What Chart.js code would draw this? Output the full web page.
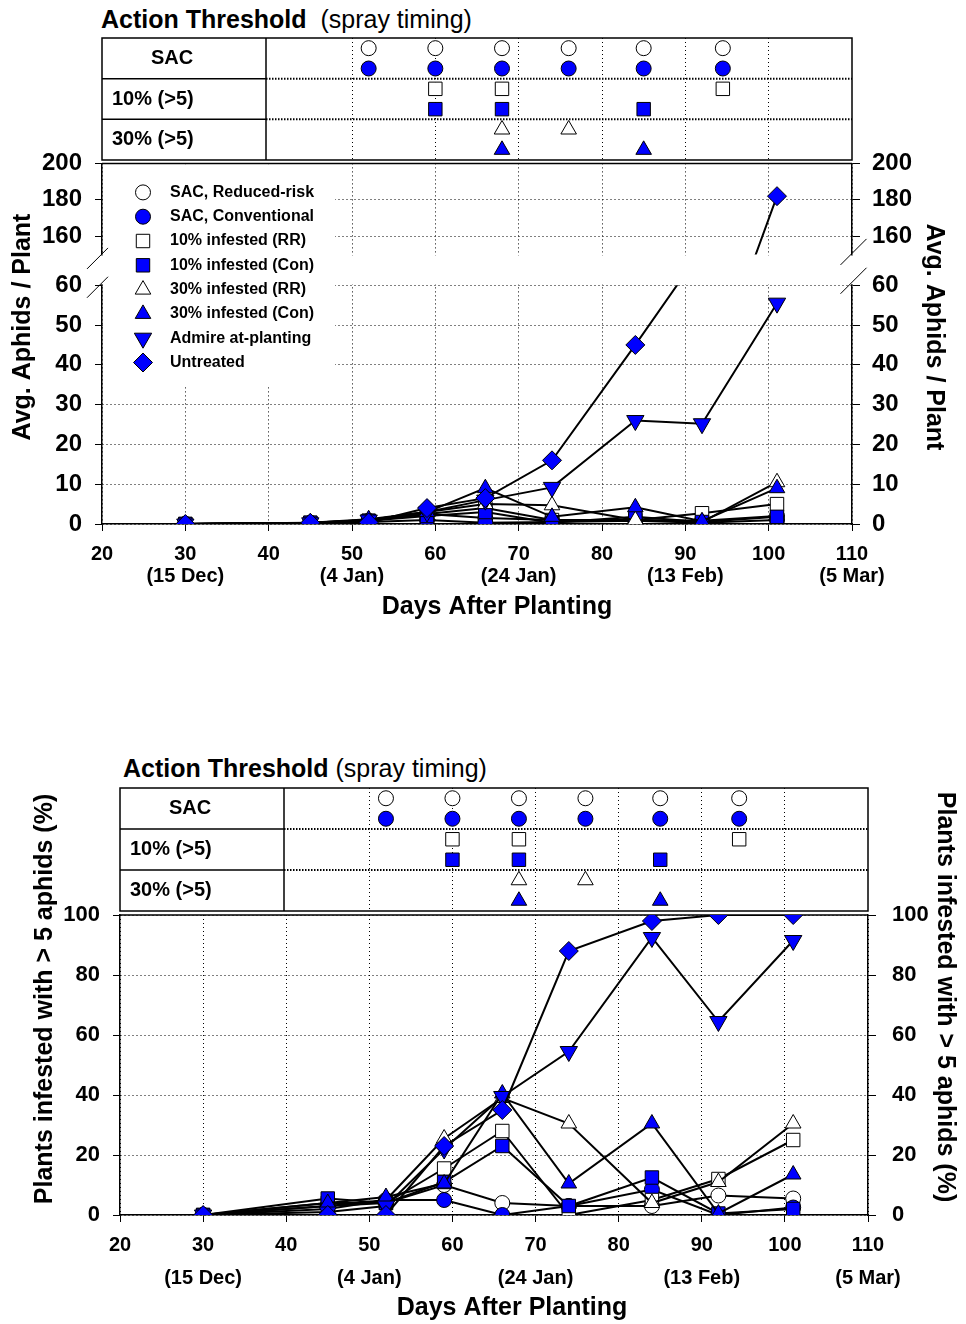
<!DOCTYPE html>
<html>
<head>
<meta charset="utf-8">
<title>Aphid action thresholds</title>
<script src="https://cdn.jsdelivr.net/npm/chart.js@4.4.1/dist/chart.umd.min.js"></script>
<style>
  html, body { margin: 0; padding: 0; background: #fff; }
  #page { position: relative; width: 966px; height: 1324px; overflow: hidden;
          font-family: "Liberation Sans", Arial, Helvetica, sans-serif; color: #000; }
  .frame { position: absolute; left: 0; width: 966px; }
  .heading { position: absolute; font-size: 25px; line-height: 28px; white-space: pre; }
</style>
</head>
<body>
<div id="page">
  <div class="heading" style="left:101px; top:5px"><b>Action Threshold</b>  (spray timing)</div>
  <div class="frame" style="top:30px; height:136px"><canvas id="sprayTop"></canvas></div>
  <div class="frame" style="top:136px; height:514px"><canvas id="aphidChart"></canvas></div>

  <div class="heading" style="left:123px; top:754px"><b>Action Threshold</b> (spray timing)</div>
  <div class="frame" style="top:780px; height:136px"><canvas id="sprayBottom"></canvas></div>
  <div class="frame" style="top:770px; height:554px"><canvas id="infestChart"></canvas></div>
</div>

<script>
const BLUE = '#0000ff';
const FONT = '"Liberation Sans", Arial, Helvetica, sans-serif';

// Sampling dates, days after planting.
const days = [30, 45, 52, 59, 66, 74, 84, 92, 101];
const treatments = ['SAC, Reduced-risk', 'SAC, Conventional', '10% infested (RR)', '10% infested (Con)',
  '30% infested (RR)', '30% infested (Con)', 'Admire at-planting', 'Untreated'];

// Avg. aphids per plant.
const aphidsSacRR = [0, 0.3, 0.8, 2.5, 1.5, 1.0, 1.0, 0.8, 2.0];
const aphidsSacCon = [0, 0.2, 0.5, 1.0, 0.3, 0.5, 0.8, 0.3, 1.0];
const aphids10RR = [0, 0.3, 0.8, 2.5, 4.0, 1.0, 1.0, 2.7, 5.0];
const aphids10Con = [0, 0.3, 0.8, 2.0, 3.0, 0.3, 1.8, 0.5, 1.8];
const aphids30RR = [0, 0.3, 1.0, 3.0, 5.0, 4.7, 1.0, 0.5, 10.5];
const aphids30Con = [0, 0.3, 1.2, 3.0, 9.0, 1.8, 4.2, 0.7, 9.0];
const aphidsAdmire = [0, 0.3, 1.0, 3.0, 6.0, 9.2, 26.0, 25.2, 55.5];
const aphidsUntreated = [0, 0.3, 0.4, 4.0, 6.5, 16.0, 45.0, 69.0, 182.0];

// Plants infested with > 5 aphids (%).
const pctSacRR = [0, 3, 4, 10, 4, 3, 3, 6.5, 5.5];
const pctSacCon = [0, 3, 5, 5, 0, 3, 8.5, 0, 2.5];
const pct10RR = [0, 4, 4, 15.5, 28, 0, 5, 12, 25];
const pct10Con = [0, 5.5, 4, 11, 23, 3, 12.5, 0.5, 2];
const pct30RR = [0, 2, 5, 25.5, 39, 30.5, 4, 11, 30.5];
const pct30Con = [0, 4, 6, 10.5, 40.5, 10.5, 30.5, 0.5, 13.5];
const pctAdmire = [0, 1, 3, 22, 39.5, 54.5, 92.5, 64.5, 91.5];
const pctUntreated = [0, 0, 0, 23, 35, 88, 98, 100, 100];

// Spray timings (days after planting) for the action threshold panels.
const sprayRows = ['SAC RR', 'SAC Con', '10% RR', '10% Con', '30% RR', '30% Con'];
const rowLabels = ['SAC', '10% (>5)', '30% (>5)'];
const spraySacRR = [52, 60, 68, 76, 85, 94.5];
const spraySacCon = [52, 60, 68, 76, 85, 94.5];
const spray10RR = [60, 68, 94.5];
const spray10Con = [60, 68, 85];
const spray30RR = [68, 76];
const spray30Con = [68, 85];

// Axis ticks.
const dayTicks = [20, 30, 40, 50, 60, 70, 80, 90, 100, 110];
const dateLabels = ['', '(15 Dec)', '', '(4 Jan)', '', '(24 Jan)', '', '(13 Feb)', '', '(5 Mar)'];
const aphidTicks = [0, 10, 20, 30, 40, 50, 60, 160, 180, 200];
const pctTicks = [0, 20, 40, 60, 80, 100];

// Broken aphid axis: 0-60 at full scale, 150-200 squeezed above a gap.
const LOW_MAX = 60, HIGH_MIN = 150, HIGH_MAX = 200;
const GAP = 7.75, SQUEEZE = 0.4575;
const lower = v => v;
const upper = v => LOW_MAX + GAP + (v - HIGH_MIN) * SQUEEZE;
const onAxis = v => (v <= LOW_MAX ? v : upper(v));

Chart.defaults.font.family = FONT;
Chart.defaults.color = '#000';

const markers = [
  {pointStyle: 'circle', pointRadius: 7.5, pointBackgroundColor: '#fff'},
  {pointStyle: 'circle', pointRadius: 7.5, pointBackgroundColor: BLUE},
  {pointStyle: 'rect', pointRadius: 9.5, pointBackgroundColor: '#fff'},
  {pointStyle: 'rect', pointRadius: 9.5, pointBackgroundColor: BLUE},
  {pointStyle: 'triangle', pointRadius: 9, pointBackgroundColor: '#fff'},
  {pointStyle: 'triangle', pointRadius: 9, pointBackgroundColor: BLUE},
  {pointStyle: 'triangle', pointRotation: 180, pointRadius: 10, pointBackgroundColor: BLUE},
  {pointStyle: 'rectRot', pointRadius: 9.5, pointBackgroundColor: BLUE}
];

// One black line with its treatment marker.
function lineSet(values, i, mapY, extra) {
  return Object.assign({
    label: treatments[i],
    data: days.map((d, k) => ({x: d, y: mapY(values[k])})),
    borderColor: '#000',
    borderWidth: 2,
    pointBorderColor: '#000',
    pointBorderWidth: 1,
    order: treatments.length - i
  }, markers[i], extra || {});
}

function drawMarker(ctx, m, x, y) {
  ctx.fillStyle = m.pointBackgroundColor;
  ctx.strokeStyle = '#000';
  ctx.lineWidth = 1;
  if (Chart.helpers && Chart.helpers.drawPoint) {
    Chart.helpers.drawPoint(ctx, {pointStyle: m.pointStyle, rotation: m.pointRotation || 0,
      radius: m.pointRadius, borderWidth: 1}, x, y);
  } else {
    ctx.beginPath();
    ctx.arc(x, y, m.pointRadius, 0, Math.PI * 2);
    ctx.fill();
    ctx.stroke();
  }
}

function dayAxis(lineHeight, padding, height) {
  return {
    type: 'linear', min: 20, max: 110,
    afterBuildTicks: s => { s.ticks = dayTicks.map(v => ({value: v})); },
    afterFit: s => { s.height = height; },
    ticks: {
      autoSkip: false, maxRotation: 0, padding,
      font: {size: 20, weight: 'bold', lineHeight},
      callback: (v, i) => dateLabels[i] ? [String(dayTicks[i]), dateLabels[i]] : String(dayTicks[i])
    },
    grid: {color: '#000', tickColor: '#000', tickLength: 7},
    border: {color: '#000', width: 1.5, dash: [1, 3]}
  };
}

function valueAxis(o) {
  return {
    type: 'linear', position: o.position, min: o.min, max: o.max,
    afterBuildTicks: s => { s.ticks = o.ticks.map(v => ({value: o.map(v)})); },
    afterFit: s => { s.width = o.width; },
    ticks: {
      autoSkip: false, padding: o.padding,
      font: {size: o.fontSize, weight: 'bold'},
      callback: (v, i) => String(o.ticks[i])
    },
    grid: {color: '#000', tickColor: '#000', tickLength: o.tickLength, drawOnChartArea: o.position === 'left'},
    border: {color: '#000', width: 1.5, dash: [1, 3]}
  };
}

// Solid line along the top of the plot area.
const topEdge = {
  id: 'topEdge',
  beforeDatasetsDraw(chart) {
    const {ctx, chartArea: a} = chart;
    ctx.save();
    ctx.strokeStyle = '#000';
    ctx.lineWidth = 1.5;
    ctx.beginPath();
    ctx.moveTo(a.left, a.top);
    ctx.lineTo(a.right, a.top);
    ctx.stroke();
    ctx.restore();
  }
};

// Legend box sitting inside the plot, top left.
const insideLegend = {
  id: 'insideLegend',
  beforeDatasetsDraw(chart) {
    const {ctx, chartArea: a} = chart;
    ctx.save();
    ctx.fillStyle = '#fff';
    ctx.fillRect(a.left + 1, a.top + 1, 232, 222);
    ctx.font = 'bold 16px ' + FONT;
    ctx.textBaseline = 'middle';
    chart.data.datasets.filter(d => d.inLegend !== false).forEach((d, i) => {
      const y = a.top + 29 + i * 24.3;
      drawMarker(ctx, d, a.left + 41, y);
      ctx.fillStyle = '#000';
      ctx.fillText(d.label, a.left + 68, y);
    });
    ctx.restore();
  }
};

// Blank band plus slash marks where the aphid axis is broken.
function gapEdges(chart) {
  const y = chart.scales.y;
  return {top: y.getPixelForValue(upper(HIGH_MIN)), bottom: y.getPixelForValue(LOW_MAX)};
}
const brokenAxis = {
  id: 'brokenAxis',
  beforeDatasetsDraw(chart) {
    const {ctx, chartArea: a} = chart;
    const g = gapEdges(chart);
    ctx.save();
    ctx.fillStyle = '#fff';
    ctx.fillRect(a.left - 4, g.top + 1, a.right - a.left + 8, g.bottom - g.top - 2);
    ctx.restore();
  },
  afterDatasetsDraw(chart) {
    const {ctx, chartArea: a} = chart;
    const g = gapEdges(chart);
    ctx.save();
    ctx.strokeStyle = '#000';
    ctx.lineWidth = 1;
    const slash = (cx, cy, r) => {
      ctx.beginPath();
      ctx.moveTo(cx - r, cy + r);
      ctx.lineTo(cx + r, cy - r);
      ctx.stroke();
    };
    slash(a.left - 4.5, g.top + 4, 10.5);
    slash(a.left - 4.5, g.bottom + 2, 10.5);
    slash(a.right + 1.5, g.top - 2.5, 13);
    slash(a.right + 1.5, g.bottom - 4.5, 13);
    ctx.restore();
  }
};

// Keep each series inside its own half of the broken axis.
const panelClip = {
  id: 'panelClip',
  beforeDatasetDraw(chart, args) {
    const ds = chart.data.datasets[args.index];
    const {ctx, chartArea: a} = chart;
    const g = gapEdges(chart);
    let top, bottom;
    if (ds.panel === 'high') {
      top = a.top - 15;
      bottom = g.top;
    } else {
      top = g.bottom;
      bottom = a.bottom + 15;
    }
    ctx.save();
    ctx.beginPath();
    ctx.rect(a.left - 15, top, a.right - a.left + 30, bottom - top);
    ctx.clip();
  },
  afterDatasetDraw(chart) {
    chart.ctx.restore();
  }
};

// Axis titles placed freely on the canvas.
function freeTitles(items) {
  return {
    id: 'freeTitles',
    afterDraw(chart) {
      const ctx = chart.ctx;
      ctx.save();
      ctx.font = 'bold 25px ' + FONT;
      ctx.fillStyle = '#000';
      ctx.textAlign = 'center';
      ctx.textBaseline = 'middle';
      items.forEach(t => {
        ctx.save();
        ctx.translate(t.x, t.y);
        ctx.rotate(t.angle * Math.PI / 180);
        ctx.fillText(t.text, 0, 0);
        ctx.restore();
      });
      ctx.restore();
    }
  };
}

// Table frame, row lines and row names of the spray timing panel.
const LABEL_COL = 164;
const panelFrame = {
  id: 'panelFrame',
  beforeDatasetsDraw(chart) {
    const {ctx, chartArea: a} = chart;
    const split = a.left + LABEL_COL;
    const rowH = (a.bottom - a.top) / rowLabels.length;
    const line = (x1, y1, x2, y2) => {
      ctx.beginPath();
      ctx.moveTo(x1, y1);
      ctx.lineTo(x2, y2);
      ctx.stroke();
    };
    ctx.save();
    ctx.fillStyle = '#fff';
    ctx.fillRect(a.left, a.top, LABEL_COL, a.bottom - a.top);
    ctx.strokeStyle = '#000';
    for (let r = 1; r < rowLabels.length; r++) {
      const y = a.top + r * rowH;
      ctx.lineWidth = 1.5;
      ctx.setLineDash([]);
      line(a.left, y, split, y);
      ctx.lineWidth = 2;
      ctx.setLineDash([1.5, 1.5]);
      line(split, y, a.right, y);
    }
    ctx.setLineDash([]);
    ctx.lineWidth = 1.5;
    line(split, a.top, split, a.bottom);
    ctx.strokeRect(a.left, a.top, a.right - a.left, a.bottom - a.top);
    ctx.font = 'bold 20px ' + FONT;
    ctx.fillStyle = '#000';
    ctx.textBaseline = 'middle';
    rowLabels.forEach((t, r) => {
      const y = a.top + (r + 0.5) * rowH;
      if (r === 0) {
        ctx.textAlign = 'center';
        ctx.fillText(t, a.left + 70, y);
      } else {
        ctx.textAlign = 'left';
        ctx.fillText(t, a.left + 10, y);
      }
    });
    ctx.restore();
  }
};

function sprayPanel(id, padding) {
  const times = [spraySacRR, spraySacCon, spray10RR, spray10Con, spray30RR, spray30Con];
  return new Chart(document.getElementById(id), {
    type: 'scatter',
    data: {
      datasets: times.map((t, i) => Object.assign({
        label: treatments[i],
        data: t.map(d => ({x: d, y: sprayRows[i]})),
        pointBorderColor: '#000',
        pointBorderWidth: 1
      }, markers[i]))
    },
    options: {
      responsive: true, maintainAspectRatio: false, animation: false, events: [],
      layout: {padding, autoPadding: false},
      plugins: {legend: {display: false}, tooltip: {enabled: false}},
      scales: {
        x: {
          type: 'linear', min: 20, max: 110,
          afterBuildTicks: s => { s.ticks = dayTicks.map(v => ({value: v})); },
          afterFit: s => { s.height = 0; },
          ticks: {display: false},
          grid: {
            drawTicks: false,
            color: c => (c.tick && c.tick.value >= 50 && c.tick.value <= 100) ? '#000' : 'rgba(0,0,0,0)'
          },
          border: {display: false, dash: [1, 3]}
        },
        y: {type: 'category', labels: sprayRows, offset: true, display: false}
      }
    },
    plugins: [panelFrame]
  });
}

sprayPanel('sprayTop', {top: 8, bottom: 6, left: 102, right: 114});
sprayPanel('sprayBottom', {top: 8, bottom: 5, left: 120, right: 98});

// Top chart: average aphids per plant, broken y axis.
new Chart(document.getElementById('aphidChart'), {
  type: 'line',
  data: {
    datasets: [
      lineSet(aphidsSacRR, 0, lower),
      lineSet(aphidsSacCon, 1, lower),
      lineSet(aphids10RR, 2, lower),
      lineSet(aphids10Con, 3, lower),
      lineSet(aphids30RR, 4, lower),
      lineSet(aphids30Con, 5, lower),
      lineSet(aphidsAdmire, 6, lower),
      lineSet(aphidsUntreated, 7, lower, {panel: 'low'}),
      lineSet(aphidsUntreated, 7, upper, {panel: 'high', inLegend: false})
    ]
  },
  options: {
    responsive: true, maintainAspectRatio: false, animation: false, events: [],
    layout: {padding: 0, autoPadding: false},
    plugins: {legend: {display: false}, tooltip: {enabled: false}},
    scales: {
      x: dayAxis(1.1, 12, 126),
      y: valueAxis({position: 'left', min: 0, max: upper(HIGH_MAX), ticks: aphidTicks, map: onAxis,
        width: 102, padding: 13, fontSize: 24, tickLength: 7}),
      yRight: valueAxis({position: 'right', min: 0, max: upper(HIGH_MAX), ticks: aphidTicks, map: onAxis,
        width: 114, padding: 12, fontSize: 24, tickLength: 8})
    }
  },
  plugins: [brokenAxis, insideLegend, topEdge, panelClip, freeTitles([
    {text: 'Avg. Aphids / Plant', x: 23, y: 191, angle: -90},
    {text: 'Avg. Aphids / Plant', x: 934, y: 201, angle: 90},
    {text: 'Days After Planting', x: 497, y: 471, angle: 0}
  ])]
});

// Bottom chart: plants infested with more than 5 aphids.
new Chart(document.getElementById('infestChart'), {
  type: 'line',
  data: {
    datasets: [
      lineSet(pctSacRR, 0, lower),
      lineSet(pctSacCon, 1, lower),
      lineSet(pct10RR, 2, lower),
      lineSet(pct10Con, 3, lower),
      lineSet(pct30RR, 4, lower),
      lineSet(pct30Con, 5, lower),
      lineSet(pctAdmire, 6, lower),
      lineSet(pctUntreated, 7, lower)
    ]
  },
  options: {
    responsive: true, maintainAspectRatio: false, animation: false, events: [],
    layout: {padding: {top: 145}, autoPadding: false},
    plugins: {legend: {display: false}, tooltip: {enabled: false}},
    scales: {
      x: dayAxis(1.65, 6.5, 109),
      y: valueAxis({position: 'left', min: 0, max: 100, ticks: pctTicks, map: lower,
        width: 120, padding: 13, fontSize: 22, tickLength: 7}),
      yRight: valueAxis({position: 'right', min: 0, max: 100, ticks: pctTicks, map: lower,
        width: 98, padding: 16, fontSize: 22, tickLength: 8})
    }
  },
  plugins: [topEdge, freeTitles([
    {text: 'Plants infested with > 5 aphids (%)', x: 45, y: 229, angle: -90},
    {text: 'Plants infested with > 5 aphids (%)', x: 945, y: 227, angle: 90},
    {text: 'Days After Planting', x: 512, y: 538, angle: 0}
  ])]
});
</script>
</body>
</html>
